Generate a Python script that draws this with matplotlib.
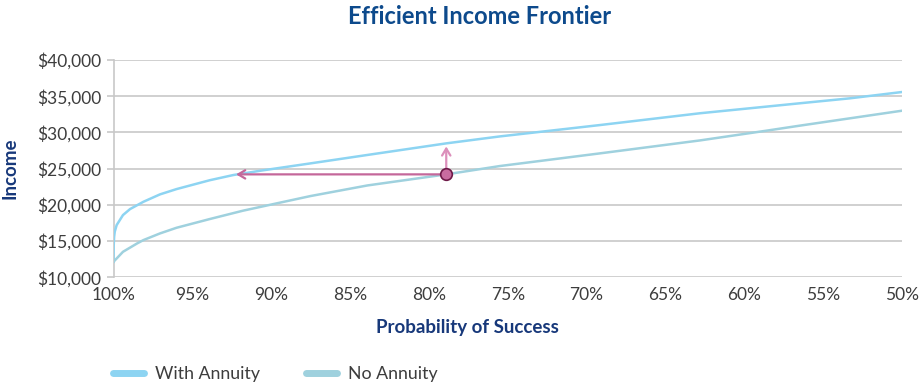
import numpy as np
import matplotlib.pyplot as plt
from matplotlib.ticker import FuncFormatter

# Probability of success (%) and income values
prob_with = [100.0, 99.99, 99.96, 99.92, 99.8, 99.4, 98.95, 98.1, 97.05, 96.0, 93.9, 92.4,
             90.7, 87.5, 83.9, 78.9, 75.5, 69.15, 62.8, 56.5, 53.3, 50.0]
income_with = [12140, 14300, 15600, 16300, 17210, 18590, 19420, 20430, 21450, 22180, 23400, 24120,
               24710, 25730, 26890, 28490, 29450, 31020, 32650, 34020, 34710, 35580]

prob_none = [100.0, 99.4, 98.5, 98.1, 97.05, 96.0, 93.9, 91.8, 89.65, 87.5, 83.9,
             78.9, 75.5, 69.15, 62.8, 58.6, 56.5, 53.3, 50.0]
income_none = [12140, 13520, 14680, 15140, 16060, 16840, 18040, 19190, 20210, 21220, 22680,
               24210, 25360, 27110, 28900, 30240, 30930, 31950, 33000]

# highlighted point and arrow targets
pt_prob, pt_income = 78.9, 24210
left_prob = 92.4
up_income = 28450

x_ticks = [100, 95, 90, 85, 80, 75, 70, 65, 60, 55, 50]
y_ticks = [10000, 15000, 20000, 25000, 30000, 35000, 40000]

navy = '#17387a'
c_with = '#8dd4f2'
c_none = '#9fd1de'

plt.rcParams['font.family'] = ['Lato', 'DejaVu Sans']

fig = plt.figure(figsize=(9.21, 3.85), dpi=100)
ax = fig.add_axes([113.5 / 921, 1 - 277.3 / 385, (902 - 113.5) / 921, (277.3 - 60) / 385])

ax.plot(prob_with, income_with, color=c_with, lw=1.8, label='With Annuity', zorder=3)
ax.plot(prob_none, income_none, color=c_none, lw=1.8, label='No Annuity', zorder=3)

# arrows
ax.annotate('', xy=(left_prob, pt_income), xytext=(pt_prob, pt_income),
            arrowprops=dict(arrowstyle='->,head_length=0.5,head_width=0.3', color='#c4679a', lw=1.6),
            zorder=4)
ax.annotate('', xy=(pt_prob, up_income), xytext=(pt_prob, pt_income),
            arrowprops=dict(arrowstyle='->,head_length=0.5,head_width=0.3', color='#dc8fbb', lw=1.6),
            zorder=4)
ax.scatter([pt_prob], [pt_income], s=70, color='#c86c9f', edgecolor='#6e1a48', lw=1.2, zorder=5)

ax.set_xlim(100, 50)
ax.set_ylim(10000, 40000)
ax.set_xticks(x_ticks)
ax.set_xticklabels([f'{t}%' for t in x_ticks])
ax.set_yticks(y_ticks)
ax.yaxis.set_major_formatter(FuncFormatter(lambda v, p: f'${v:,.0f}'))

ax.grid(axis='y', color='#c8c8c8', lw=1.2)
ax.set_axisbelow(True)
for s in ['top', 'right', 'bottom']:
    ax.spines[s].set_visible(False)
ax.spines['left'].set_color('#c8c8c8')
ax.spines['left'].set_linewidth(1.2)
ax.tick_params(axis='y', length=5, color='#c8c8c8', width=1.2, labelsize=12.5, labelcolor='#3d3d3d', pad=4)
ax.tick_params(axis='x', length=0, labelsize=12.5, labelcolor='#3d3d3d', pad=7)

fig.text(480 / 921, 1 - 16 / 385, 'Efficient Income Frontier', ha='center', va='center',
         fontsize=17, fontweight='bold', color='#0d4a8c')
fig.text(10 / 921, 1 - 168 / 385, 'Income', rotation=90, ha='center', va='center',
         fontsize=13.5, fontweight='bold', color=navy)
fig.text(467 / 921, 1 - 327 / 385, 'Probability of Success', ha='center', va='center',
         fontsize=13.5, fontweight='bold', color=navy)

leg = fig.legend(loc='center left', bbox_to_anchor=(97 / 921, 1 - 374 / 385), ncol=2, frameon=False,
                 fontsize=12.8, handlelength=1.75, columnspacing=2.6, handletextpad=0.6)
for h in leg.get_lines():
    h.set_linewidth(5)
    h.set_solid_capstyle('round')
for t in leg.get_texts():
    t.set_color('#3d3d3d')

fig.savefig('out.png', dpi=100)
